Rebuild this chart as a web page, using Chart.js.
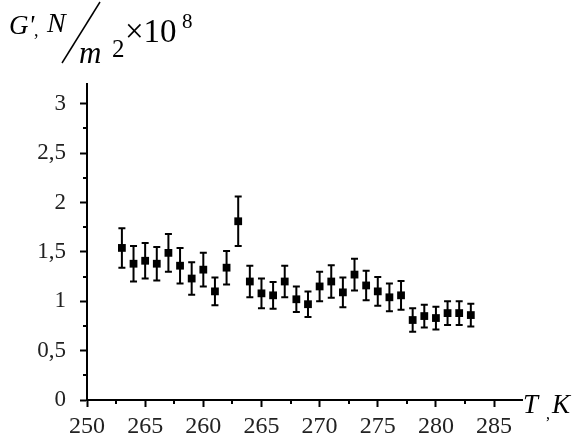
<!DOCTYPE html>
<html>
<head>
<meta charset="utf-8">
<script src="https://cdn.jsdelivr.net/npm/chart.js@4.4.1/dist/chart.umd.min.js"></script>
<style>
html,body{margin:0;padding:0;background:#fff;}
#wrap{position:relative;width:586px;height:443px;}
</style>
</head>
<body>
<div id="wrap"><canvas id="c" width="586" height="443"></canvas></div>
<script>
// ---- data ----
const temperatures = [253,254,255,256,257,258,259,260,261,262,263,264,265,266,267,268,269,270,271,272,273,274,275,276,277,278,279,280,281,282,283];
const gValues      = [1.54,1.38,1.41,1.38,1.49,1.36,1.23,1.32,1.10,1.34,1.81,1.20,1.08,1.06,1.20,1.02,0.97,1.15,1.20,1.09,1.27,1.16,1.10,1.04,1.06,0.81,0.85,0.83,0.88,0.88,0.86];
const gErrors      = [0.20,0.18,0.18,0.17,0.19,0.18,0.165,0.17,0.14,0.17,0.25,0.16,0.15,0.135,0.16,0.13,0.13,0.15,0.165,0.15,0.16,0.15,0.145,0.14,0.145,0.12,0.115,0.115,0.12,0.12,0.115];
const xTickValues  = [250,255,260,265,270,275,280,285];
const xTickLabels  = ['250','265','260','265','270','275','280','285'];
const yTickValues  = [0,0.5,1,1.5,2,2.5,3];
const yTickLabels  = ['0','0,5','1','1,5','2','2,5','3'];
const xMinorTicks  = [252.5,257.5,262.5,267.5,272.5,277.5,282.5];
const yMinorTicks  = [0.25,0.75,1.25,1.75,2.25,2.75];

const points = temperatures.map((t,i)=>({x:t,y:gValues[i]}));

const errorBars = {
  id:'errorBars',
  beforeDatasetsDraw(chart){
    const {ctx, scales:{x,y}} = chart;
    ctx.save();
    ctx.strokeStyle='#000';
    ctx.lineWidth=2;
    temperatures.forEach((t,i)=>{
      const px = x.getPixelForValue(t);
      const top = y.getPixelForValue(gValues[i]+gErrors[i]);
      const bot = y.getPixelForValue(gValues[i]-gErrors[i]);
      ctx.beginPath();
      ctx.moveTo(px,top); ctx.lineTo(px,bot);
      ctx.moveTo(px-3.5,top); ctx.lineTo(px+3.5,top);
      ctx.moveTo(px-3.5,bot); ctx.lineTo(px+3.5,bot);
      ctx.stroke();
    });
    ctx.restore();
  }
};

const minorTicks = {
  id:'minorTicks',
  afterDraw(chart){
    const {ctx, scales:{x,y}} = chart;
    ctx.save();
    ctx.strokeStyle='#000';
    ctx.lineWidth=2;
    const yb = y.getPixelForValue(0);
    xMinorTicks.forEach(v=>{
      const px = Math.round(x.getPixelForValue(v));
      ctx.beginPath(); ctx.moveTo(px,yb); ctx.lineTo(px,yb+4); ctx.stroke();
    });
    const xl = x.getPixelForValue(250);
    yMinorTicks.forEach(v=>{
      const py = Math.round(y.getPixelForValue(v));
      ctx.beginPath(); ctx.moveTo(xl,py); ctx.lineTo(xl-4,py); ctx.stroke();
    });
    ctx.restore();
  }
};

const axisTitles = {
  id:'axisTitles',
  afterDraw(chart){
    const ctx = chart.ctx;
    ctx.save();
    ctx.fillStyle='#000';
    ctx.textBaseline='alphabetic';
    ctx.textAlign='left';
    // y title: G', N/m^2 x10^8
    ctx.font='italic 27px "Liberation Serif"';
    ctx.fillText("G'",9,34);
    ctx.font='18px "Liberation Serif"';
    ctx.fillText(",",34,36);
    ctx.font='italic 28px "Liberation Serif"';
    ctx.fillText("N",47,32);
    ctx.strokeStyle='#000'; ctx.lineWidth=1.5;
    ctx.beginPath(); ctx.moveTo(100,2); ctx.lineTo(62,63); ctx.stroke();
    ctx.font='italic 31px "Liberation Serif"';
    ctx.fillText("m",79,63);
    ctx.font='25px "Liberation Serif"';
    ctx.fillText("2",112,57);
    ctx.font='33px "Liberation Serif"';
    ctx.fillText("×10",125,42);
    ctx.font='21px "Liberation Serif"';
    ctx.fillText("8",182,28);
    // x title: T, K
    ctx.font='italic 27px "Liberation Serif"';
    ctx.fillText("T",523,413);
    ctx.font='16px "Liberation Serif"';
    ctx.fillText(",",546,419);
    ctx.font='italic 27px "Liberation Serif"';
    ctx.fillText("K",552,413);
    ctx.restore();
  }
};

new Chart(document.getElementById('c'),{
  type:'scatter',
  data:{datasets:[{
    data:points,
    pointStyle:'rect',
    pointRadius:5.5,
    pointHoverRadius:5.5,
    backgroundColor:'#000',
    borderColor:'#000',
    borderWidth:0,
    showLine:false
  }]},
  options:{
    responsive:false,
    animation:false,
    events:[],
    layout:{padding:{top:84,right:64,left:0,bottom:0}},
    plugins:{legend:{display:false},tooltip:{enabled:false},title:{display:false}},
    scales:{
      x:{
        type:'linear',
        min:250,max:287.4,
        afterBuildTicks(s){ s.ticks = xTickValues.map(v=>({value:v})); },
        afterFit(s){ s.height = 43; },
        ticks:{
          callback:(v)=>{const i=xTickValues.indexOf(v);return i>=0?xTickLabels[i]:'';},
          font:{family:'"Liberation Serif"',size:24},
          color:'#222',
          padding:5,
          maxRotation:0,autoSkip:false
        },
        grid:{display:true,drawOnChartArea:false,drawTicks:true,tickLength:7,tickWidth:2,tickColor:'#000'},
        border:{display:true,color:'#000',width:2}
      },
      y:{
        type:'linear',
        min:0,max:3.2,
        afterBuildTicks(s){ s.ticks = yTickValues.map(v=>({value:v})); },
        afterFit(s){ s.width = 87; },
        ticks:{
          callback:(v)=>{const i=yTickValues.indexOf(v);return i>=0?yTickLabels[i]:'';},
          font:{family:'"Liberation Serif"',size:23},
          color:'#222',
          padding:14,
          autoSkip:false
        },
        grid:{display:true,drawOnChartArea:false,drawTicks:true,tickLength:7,tickWidth:2,tickColor:'#000'},
        border:{display:true,color:'#000',width:2}
      }
    }
  },
  plugins:[errorBars,minorTicks,axisTitles]
});
</script>
</body>
</html>
